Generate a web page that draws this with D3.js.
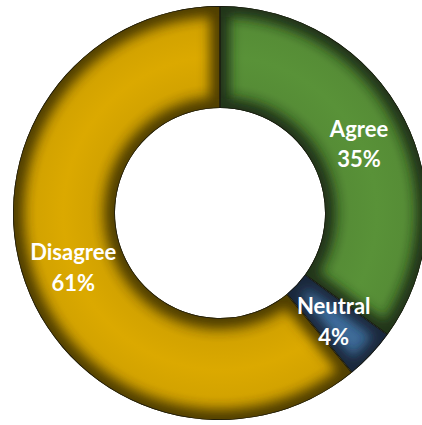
<!DOCTYPE html>
<html><head><meta charset="utf-8">
<script src="https://cdn.jsdelivr.net/npm/d3@7"></script>
<style>html,body{margin:0;padding:0;background:#fff;}</style>
</head><body>
<svg id="c" width="422" height="425"></svg>
<script>
const categories = ["Agree", "Neutral", "Disagree"];
const values = [35, 4, 61];
const colors = ["#568d36", "#3f6d9a", "#d3a300"];

const svg = d3.select("#c");
const cx = 220, cy = 213, rOuter = 207, rInner = 105;
const defs = svg.append("defs");
defs.append("filter").attr("id", "blur")
  .attr("x", "-20%").attr("y", "-20%").attr("width", "140%").attr("height", "140%")
  .append("feGaussianBlur").attr("stdDeviation", 6);

const pie = d3.pie().sort(null).value(d => d)(values);
const arc = d3.arc().innerRadius(rInner).outerRadius(rOuter);

pie.forEach((d, i) => {
  const c = d3.color(colors[i]);
  const gr = defs.append("radialGradient").attr("id", "rg" + i)
    .attr("gradientUnits", "userSpaceOnUse").attr("cx", 0).attr("cy", 0).attr("r", rOuter);
  const t = rInner / rOuter;
  [[t, c.darker(0.6)], [t + 0.12, c], [t + 0.25, c.brighter(0.1)], [t + 0.38, c], [1, c.darker(0.5)]]
    .forEach(([o, col]) => gr.append("stop").attr("offset", o).attr("stop-color", col.formatHex()));
  defs.append("clipPath").attr("id", "cp" + i).append("path")
    .attr("transform", `translate(${cx},${cy})`).attr("d", arc(d));
});

pie.forEach((d, i) => {
  const sg = svg.append("g").attr("clip-path", `url(#cp${i})`)
    .append("g").attr("transform", `translate(${cx},${cy})`);
  sg.append("path").attr("d", arc(d)).attr("fill", `url(#rg${i})`);
  sg.append("path").attr("d", arc(d)).attr("fill", "none")
    .attr("stroke", d3.color(colors[i]).darker(3).formatHex())
    .attr("stroke-opacity", 0.95)
    .attr("stroke-width", 20).attr("filter", "url(#blur)");
  sg.append("path").attr("d", arc(d)).attr("fill", "none")
    .attr("stroke", "#1a1a10").attr("stroke-width", 1.5);
});

const lab = svg.append("g").attr("transform", `translate(${cx},${cy})`)
  .selectAll("text.l").data(pie).join("text").attr("class", "l")
  .attr("transform", d => `translate(${arc.centroid(d)})`)
  .attr("text-anchor", "middle")
  .attr("fill", "#fff")
  .style("font-family", "Lato, 'Open Sans', sans-serif")
  .style("font-weight", 700)
  .style("font-size", "22px");
lab.append("tspan").attr("x", 0).attr("dy", "-0.25em").text((d, i) => categories[i]);
lab.append("tspan").attr("x", 0).attr("dy", "1.4em").text((d, i) => values[i] + "%");
</script>
</body></html>
